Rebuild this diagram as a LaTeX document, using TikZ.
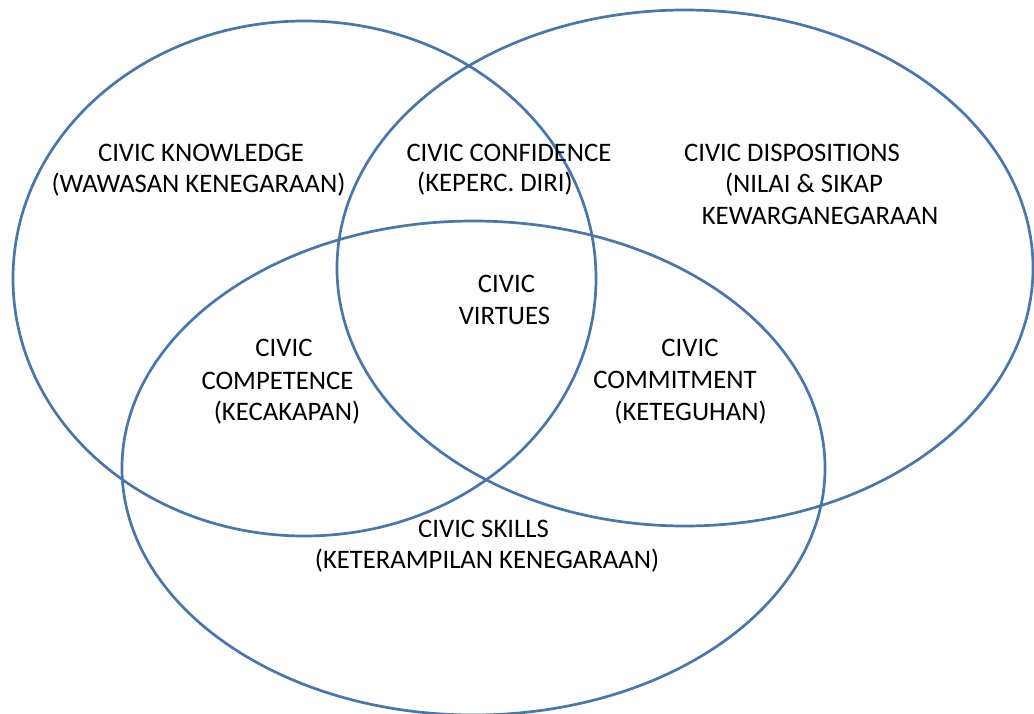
\documentclass[tikz,border=0pt]{standalone}
\usepackage{fontspec}
\setmainfont{Carlito}
\definecolor{vennline}{HTML}{4A76A8}
\begin{document}
\begin{tikzpicture}[x=1pt,y=-1pt,
  ring/.style={draw=vennline,line width=2.7pt},
  lbl/.style={anchor=base,inner sep=0pt,font=\fontsize{26.7}{32}\selectfont,text=black}]
\fill[white] (0,0) rectangle (1034,714);
\useasboundingbox (0,0) rectangle (1034,714);
\begin{scope}
\clip (0,0) rectangle (1034,714);
\draw[ring] (304.5,278.5) ellipse [x radius=291.5pt, y radius=257.5pt];
\draw[ring] (685,268) ellipse [x radius=348pt, y radius=258pt];
\draw[ring] (473.5,468) ellipse [x radius=351.5pt, y radius=247pt];
\end{scope}
\node[lbl] (k1) at (201,162) {CIVIC KNOWLEDGE};
\node[lbl] (k2) at (198.5,193) {(WAWASAN KENEGARAAN)};
\node[lbl] (c1) at (509,162) {CIVIC CONFIDENCE};
\node[lbl] (c2) at (495,192) {(KEPERC. DIRI)};
\node[lbl] (d1) at (792,162) {CIVIC DISPOSITIONS};
\node[lbl] (d2) at (804,193) {(NILAI \& SIKAP};
\node[lbl] (d3) at (820,225) {KEWARGANEGARAAN};
\node[lbl] (v1) at (506.5,292) {CIVIC};
\node[lbl] (v2) at (504.5,324) {VIRTUES};
\node[lbl] (p1) at (284,356) {CIVIC};
\node[lbl] (p2) at (277.5,389) {COMPETENCE};
\node[lbl] (p3) at (287,420) {(KECAKAPAN)};
\node[lbl] (m1) at (690,356) {CIVIC};
\node[lbl] (m2) at (675,388) {COMMITMENT};
\node[lbl] (m3) at (690.5,420) {(KETEGUHAN)};
\node[lbl] (s1) at (483.5,537) {CIVIC SKILLS};
\node[lbl] (s2) at (487,568) {(KETERAMPILAN KENEGARAAN)};
\end{tikzpicture}
\end{document}
